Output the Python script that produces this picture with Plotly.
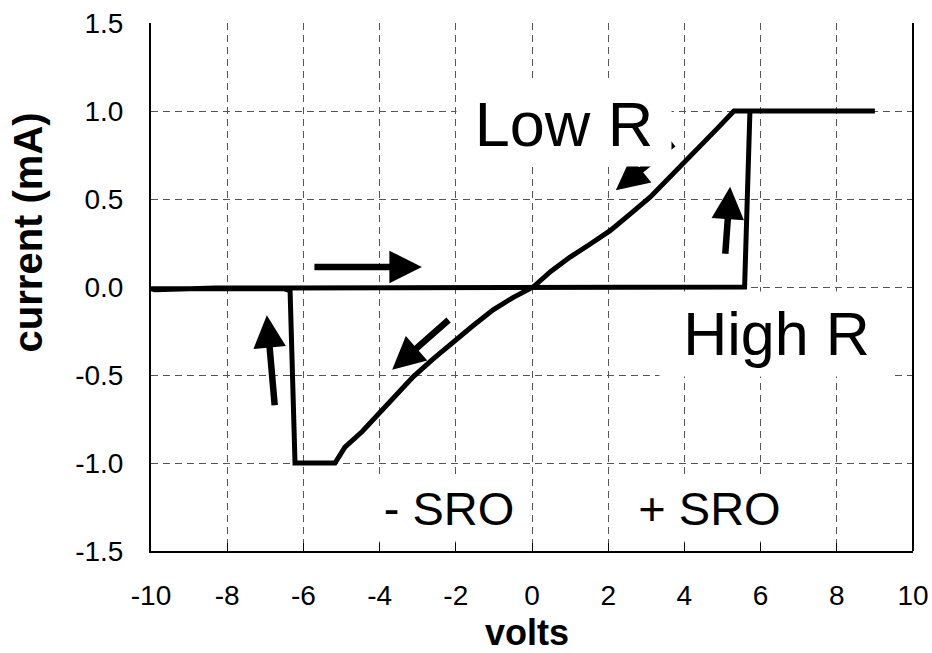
import plotly.graph_objects as go

# Hysteresis I-V sweep (volts, mA), in sweep order
volts = [-10.0, -9.9, -8.3, -7.0, -6.5, 5.58, 5.72, 9.0, 5.30, 4.86, 4.45, 4.02, 3.55, 3.10,
         2.55, 2.05, 1.50, 1.00, 0.50, 0.03, -0.50, -1.02, -1.55, -2.07, -2.60, -3.12,
         -3.55, -3.99, -4.45, -4.91, -5.17, -6.22, -6.30, -6.35, -6.50, -8.3, -10.0]
current = [-0.01, -0.015, -0.005, -0.01, -0.005, 0.0, 1.0, 1.0, 1.0, 0.90, 0.81, 0.72, 0.61, 0.51,
           0.41, 0.32, 0.24, 0.17, 0.09, 0.0, -0.06, -0.13, -0.22, -0.31, -0.41, -0.51,
           -0.61, -0.72, -0.82, -0.91, -1.0, -1.0, -0.50, -0.02, -0.01, -0.01, -0.01]

x_ticks = [-10, -8, -6, -4, -2, 0, 2, 4, 6, 8, 10]
x_tick_text = ["-10", "-8", "-6", "-4", "-2", "0", "2", "4", "6", "8", "10"]
y_ticks = [-1.5, -1.0, -0.5, 0.0, 0.5, 1.0, 1.5]
y_tick_text = ["-1.5", "-1.0", "-0.5", "0.0", "0.5", "1.0", "1.5"]

# direction arrows: (tail x, tail y, tip x, tip y)
arrows = [
    (-5.75, 0.114, -2.89, 0.114),
    (-2.15, -0.18, -3.67, -0.47),
    (-6.75, -0.68, -6.96, -0.16),
    (5.07, 0.18, 5.20, 0.57),
    (3.75, 0.82, 2.20, 0.55),
]

# labels: text, x, y, font size, box width, box height
labels = [
    ("Low R", 0.84, 0.926, 63, 208, 78),
    ("High R", 6.42, -0.267, 61, 227, 78),
    ("- SRO", -2.18, -1.256, 47, 156, 60),
    ("+ SRO", 4.66, -1.256, 47, 165, 60),
]

FONT = "Liberation Sans, Arial, sans-serif"

fig = go.Figure()
fig.add_trace(go.Scatter(x=volts, y=current, mode="lines",
                         line=dict(color="black", width=5),
                         showlegend=False, hoverinfo="skip"))

annotations = []
for tx, ty, hx, hy in arrows:
    annotations.append(dict(x=hx, y=hy, ax=tx, ay=ty, xref="x", yref="y",
                            axref="x", ayref="y", text="", showarrow=True,
                            arrowhead=2, arrowsize=1, arrowwidth=6.5,
                            arrowcolor="black", standoff=0, startstandoff=0))
for txt, lx, ly, fs, w, h in labels:
    annotations.append(dict(x=lx, y=ly, xref="x", yref="y", text=txt,
                            showarrow=False, font=dict(family=FONT, size=fs, color="black"),
                            bgcolor="white", width=w, height=h, borderpad=3,
                            xanchor="center", yanchor="middle"))

annotations.append(dict(x=-0.161, y=0.604, xref="paper", yref="paper",
                        xanchor="center", yanchor="middle",
                        text="<b>current (mA)</b>", textangle=-90, showarrow=False,
                        font=dict(family=FONT, size=40, color="black")))
annotations.append(dict(x=0.4934, y=-0.1553, xref="paper", yref="paper",
                        xanchor="center", yanchor="middle",
                        text="<b>volts</b>", showarrow=False,
                        font=dict(family=FONT, size=36, color="black")))

grid = dict(showgrid=True, gridcolor="#555555", gridwidth=1, griddash="7px,5px")

fig.update_layout(
    width=932, height=653,
    margin=dict(l=151, r=19, t=23, b=102, autoexpand=False),
    paper_bgcolor="white", plot_bgcolor="white",
    font=dict(family=FONT, size=28, color="black"),
    annotations=annotations,
    shapes=[dict(type="line", xref="paper", yref="paper", x0=1, x1=1, y0=0, y1=1,
                 line=dict(color="black", width=2))],
    xaxis=dict(range=[-10, 10], tickvals=x_ticks, ticktext=x_tick_text,
               showline=True, linecolor="black", linewidth=2, zeroline=False,
               ticks="inside", ticklen=8, tickwidth=1.3, tickcolor="black",
               ticklabelstandoff=18, tickfont=dict(size=28), automargin=False, **grid),
    yaxis=dict(range=[-1.5, 1.5], tickvals=y_ticks, ticktext=y_tick_text,
               showline=True, linecolor="black", linewidth=2, zeroline=False,
               ticks="", ticklabelstandoff=20, tickfont=dict(size=28), automargin=False, **grid),
)

fig.write_html("out.html")
